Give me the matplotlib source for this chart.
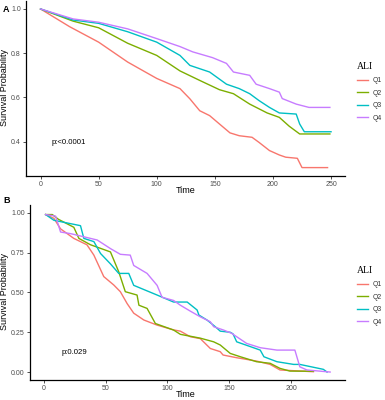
import matplotlib
matplotlib.use("Agg")
import matplotlib.pyplot as plt

plt.rcParams["font.family"] = ["Liberation Sans", "DejaVu Sans"]

colors = ["#F8766D", "#7CAE00", "#00BFC4", "#C77CFF"]
groups = ["Q1", "Q2", "Q3", "Q4"]

# panel A
a_q1_t = [0, 25, 50, 75, 100, 120, 128.5, 137, 145.5, 154, 163, 171, 182, 188, 197, 205.5, 211, 221, 225, 247]
a_q1_s = [1.0, 0.92, 0.85, 0.76, 0.686, 0.64, 0.594, 0.54, 0.518, 0.48, 0.44, 0.427, 0.42, 0.397, 0.36, 0.34, 0.33, 0.325, 0.283, 0.283]
a_q2_t = [0, 28, 50, 75, 100, 120, 137, 154, 166, 180, 195, 205.5, 214, 223, 249]
a_q2_s = [1.0, 0.945, 0.915, 0.845, 0.79, 0.72, 0.677, 0.635, 0.617, 0.57, 0.53, 0.51, 0.47, 0.435, 0.435]
a_q3_t = [0, 28, 50, 75, 100, 120, 128.5, 145.5, 160, 171, 180, 188, 197, 205.5, 220, 223, 227, 250]
a_q3_s = [1.0, 0.95, 0.935, 0.897, 0.85, 0.79, 0.745, 0.715, 0.66, 0.64, 0.617, 0.586, 0.555, 0.53, 0.525, 0.48, 0.445, 0.445]
a_q4_t = [0, 28, 50, 75, 100, 120, 131, 148, 160, 166, 180, 185.5, 197, 205.5, 208, 220, 231, 249]
a_q4_s = [1.0, 0.955, 0.94, 0.91, 0.866, 0.83, 0.806, 0.78, 0.754, 0.715, 0.70, 0.66, 0.64, 0.624, 0.595, 0.57, 0.555, 0.555]

# panel B
b_q1_t = [1.6, 8.3, 13.7, 24.4, 35, 40.6, 48.6, 56.7, 62, 67.5, 72.8, 81, 91.7, 105, 110.5, 118.5, 126.6, 134.7, 142.7, 145, 156, 172, 183, 191, 218]
b_q1_s = [0.99, 0.966, 0.90, 0.84, 0.80, 0.735, 0.60, 0.547, 0.505, 0.43, 0.37, 0.327, 0.295, 0.265, 0.257, 0.222, 0.21, 0.148, 0.128, 0.107, 0.09, 0.069, 0.048, 0.013, 0.002]
b_q2_t = [1.6, 7, 12, 24.4, 28.5, 37.9, 54, 60.7, 66, 75.5, 77, 83.6, 90.3, 105, 110.5, 126.6, 137.4, 142.7, 150.8, 159, 172, 183, 191, 199, 218]
b_q2_s = [0.99, 0.99, 0.96, 0.91, 0.84, 0.80, 0.755, 0.63, 0.505, 0.484, 0.42, 0.40, 0.305, 0.264, 0.237, 0.213, 0.19, 0.17, 0.117, 0.096, 0.065, 0.055, 0.023, 0.006, 0.005]
b_q3_t = [1.6, 8.3, 29.8, 32.5, 40.6, 46, 54, 60.7, 68.8, 72.8, 91.7, 105, 116, 124, 125.5, 132, 138.7, 142.7, 150.8, 153, 156, 175, 178, 188.5, 202, 207, 226, 229]
b_q3_s = [0.99, 0.954, 0.92, 0.84, 0.82, 0.745, 0.68, 0.62, 0.62, 0.545, 0.484, 0.44, 0.44, 0.39, 0.358, 0.327, 0.285, 0.257, 0.25, 0.24, 0.19, 0.138, 0.096, 0.065, 0.048, 0.048, 0.017, 0.0]
b_q4_t = [1.6, 9.7, 13.7, 21.8, 43.3, 54, 62, 70, 72.8, 83.6, 91.7, 95.7, 105, 110.5, 118.5, 126.6, 134.7, 137.4, 145.4, 152, 164, 175, 188.5, 203, 207, 212.7, 231.5]
b_q4_s = [0.99, 0.98, 0.88, 0.87, 0.83, 0.776, 0.74, 0.735, 0.67, 0.62, 0.545, 0.47, 0.45, 0.42, 0.383, 0.347, 0.316, 0.285, 0.264, 0.243, 0.18, 0.153, 0.138, 0.138, 0.033, 0.013, 0.0]

a_curves = [(a_q1_t, a_q1_s), (a_q2_t, a_q2_s), (a_q3_t, a_q3_s), (a_q4_t, a_q4_s)]
b_curves = [(b_q1_t, b_q1_s), (b_q2_t, b_q2_s), (b_q3_t, b_q3_s), (b_q4_t, b_q4_s)]

W, H = 385, 400
fig = plt.figure(figsize=(W / 100, H / 100), dpi=100)
axA = fig.add_axes([26 / W, 1 - 176 / H, 319 / W, 175 / H])
axB = fig.add_axes([30 / W, 1 - 380 / H, 315 / W, 175 / H])


def style(ax, ylab_y, xlab_y):
    for s in ["top", "right"]:
        ax.spines[s].set_visible(False)
    for s in ["left", "bottom"]:
        ax.spines[s].set_linewidth(0.9)
        ax.spines[s].set_color("black")
    ax.tick_params(axis="both", length=2.2, width=0.6, color="#333333",
                   labelsize=5.0, labelcolor="#4D4D4D", pad=1.5)
    ax.set_xlabel("Time", fontsize=6.5)
    ax.set_ylabel("Survival Probability", fontsize=6.5)
    ax.xaxis.set_label_coords(186 / W, 1 - xlab_y / H, transform=fig.transFigure)
    ax.yaxis.set_label_coords(9 / W, 1 - ylab_y / H, transform=fig.transFigure)


def legend(ax, y_top):
    leg = ax.legend(loc="upper left", bbox_to_anchor=(354 / W, 1 - y_top / H),
                    bbox_transform=fig.transFigure, frameon=False, fontsize=4.9,
                    handlelength=1.5, handletextpad=0.8, labelspacing=0.82,
                    borderpad=0, title="ALI",
                    title_fontproperties={"family": "Liberation Serif", "size": 7})
    leg._legend_box.align = "left"
    for t in leg.get_texts():
        t.set_color("#333333")


for (t, s), c, g in zip(a_curves, colors, groups):
    axA.plot(t, s, color=c, lw=1.0, label=g)
axA.set_xlim(-12.5, 262)
axA.set_ylim(0.245, 1.036)
axA.set_xticks([0, 50, 100, 150, 200, 250])
axA.set_yticks([0.4, 0.6, 0.8, 1.0])
axA.set_yticklabels(["0.4", "0.6", "0.8", "1.0"])
style(axA, 88, 186)
axA.text(9.4, 0.395, "p:<0.0001", fontsize=5.6, va="center", ha="left")
legend(axA, 59)

for (t, s), c, g in zip(b_curves, colors, groups):
    axB.plot(t, s, color=c, lw=1.0, label=g)
axB.set_xlim(-11, 243.5)
axB.set_ylim(-0.05, 1.05)
axB.set_xticks([0, 50, 100, 150, 200])
axB.set_yticks([0, 0.25, 0.5, 0.75, 1.0])
axB.set_yticklabels(["0.00", "0.25", "0.50", "0.75", "1.00"])
style(axB, 292, 390)
axB.text(14.5, 0.12, "p:0.029", fontsize=5.6, va="center", ha="left")
legend(axB, 263)

fig.text(3 / W, 1 - 10 / H, "A", fontsize=6.5, fontweight="bold", va="center")
fig.text(3 / W, 1 - 201 / H, "B", fontsize=6.5, fontweight="bold", va="center")

fig.savefig("out.png", dpi=100)
